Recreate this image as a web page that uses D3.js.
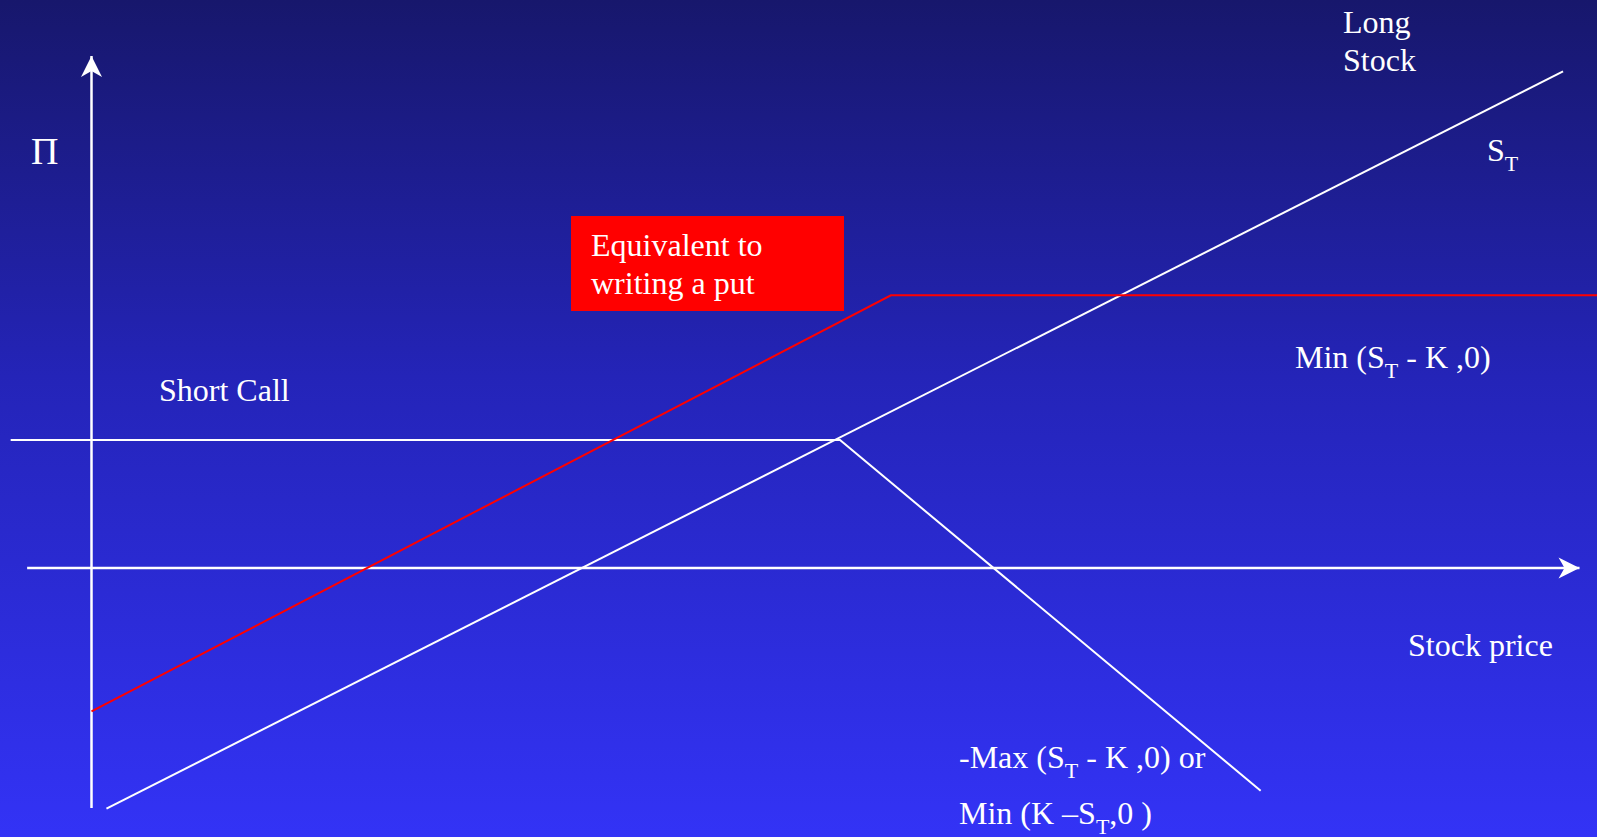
<!DOCTYPE html>
<html lang="en">
<head>
    <meta charset="UTF-8">
    <title>Short Call + Long Stock</title>
    <script src="https://d3js.org/d3.v7.min.js"></script>
    <style>
        body {
            margin: 0;
            overflow: hidden;
            background-color: #1a1a80;
        }
        svg {
            display: block;
        }
        text {
            font-family: "Liberation Serif", "Times New Roman", serif;
            fill: #ffffff;
        }
        .payoff {
            fill: none;
            stroke-width: 2px;
        }
    </style>
</head>
<body>
    <svg width="1597" height="837"></svg>
    <script>
        // payoff lines, stock price S on x, profit on y (strike K = 50, premium = 10)
        const shortCall  = [[-5.4, 10], [50, 10], [78.1, -17.4]];
        const longStock  = [[1.0, -18.8], [98.3, 38.8]];
        const writtenPut = [[0, -11.2], [53.4, 21.3], [100.6, 21.3]];

        // extent of the drawn axes
        const xAxisExtent = [-4.3, 99.4];
        const yAxisExtent = [-18.75, 40];

        const svg = d3.select("svg"),
            width = +svg.attr("width"),
            height = +svg.attr("height");

        const x = d3.scaleLinear().domain([0, 100]).range([91.5, 1588.5]);
        const y = d3.scaleLinear().domain([0, 10]).range([568, 440]);

        const defs = svg.append("defs");

        const grad = defs.append("linearGradient")
            .attr("id", "bg")
            .attr("x1", 0).attr("y1", 0)
            .attr("x2", 0).attr("y2", 1);
        grad.append("stop").attr("offset", "0%").attr("stop-color", "#17176c");
        grad.append("stop").attr("offset", "45%").attr("stop-color", "#2424b8");
        grad.append("stop").attr("offset", "100%").attr("stop-color", "#3333f6");

        defs.append("marker")
            .attr("id", "arrow")
            .attr("markerUnits", "userSpaceOnUse")
            .attr("viewBox", "-22 -11 24 22")
            .attr("markerWidth", 24)
            .attr("markerHeight", 22)
            .attr("refX", 0)
            .attr("refY", 0)
            .attr("orient", "auto")
            .append("path")
            .attr("d", "M0,0 L-21,-10.5 L-15,0 L-21,10.5 Z")
            .attr("fill", "#fff");

        svg.append("rect")
            .attr("width", width)
            .attr("height", height)
            .attr("fill", "url(#bg)");

        // axes
        svg.append("line")
            .attr("x1", x(0)).attr("y1", y(yAxisExtent[0]))
            .attr("x2", x(0)).attr("y2", y(yAxisExtent[1]))
            .attr("stroke", "#fff")
            .attr("stroke-width", 2.5)
            .attr("marker-end", "url(#arrow)");

        svg.append("line")
            .attr("x1", x(xAxisExtent[0])).attr("y1", y(0))
            .attr("x2", x(xAxisExtent[1])).attr("y2", y(0))
            .attr("stroke", "#fff")
            .attr("stroke-width", 2.5)
            .attr("marker-end", "url(#arrow)");

        const line = d3.line()
            .x(d => x(d[0]))
            .y(d => y(d[1]));

        svg.append("path")
            .datum(shortCall)
            .attr("class", "payoff")
            .attr("stroke", "#fff")
            .attr("d", line);

        svg.append("path")
            .datum(longStock)
            .attr("class", "payoff")
            .attr("stroke", "#fff")
            .attr("d", line);

        svg.append("path")
            .datum(writtenPut)
            .attr("class", "payoff")
            .attr("stroke", "#ff0000")
            .attr("d", line);

        // red callout box
        svg.append("rect")
            .attr("x", 571).attr("y", 216)
            .attr("width", 273).attr("height", 95)
            .attr("fill", "#ff0000");

        function label(px, py, parts, size) {
            const t = svg.append("text")
                .attr("x", px)
                .attr("y", py)
                .style("font-size", size + "px");
            let shift = 0;
            parts.forEach(p => {
                if (typeof p === "string") {
                    t.append("tspan").attr("dy", -shift).text(p);
                    shift = 0;
                } else {
                    // subscript
                    shift = 10;
                    t.append("tspan")
                        .attr("dy", shift)
                        .style("font-size", "22px")
                        .text(p.sub);
                }
            });
            return t;
        }

        label(31, 164, ["\u03A0"], 38);
        label(1343, 33, ["Long"], 32);
        label(1343, 71, ["Stock"], 32);
        label(1487, 161, ["S", {sub: "T"}], 32);
        label(591, 256, ["Equivalent to"], 32);
        label(591, 294, ["writing a put"], 32);
        label(159, 401, ["Short Call"], 32);
        label(1295, 368, ["Min (S", {sub: "T"}, " - K ,0)"], 32);
        label(1408, 656, ["Stock price"], 32);
        label(959, 768, ["-Max (S", {sub: "T"}, " - K ,0) or"], 32);
        label(959, 824, ["Min (K \u2013S", {sub: "T"}, ",0 )"], 32);
    </script>
</body>
</html>
